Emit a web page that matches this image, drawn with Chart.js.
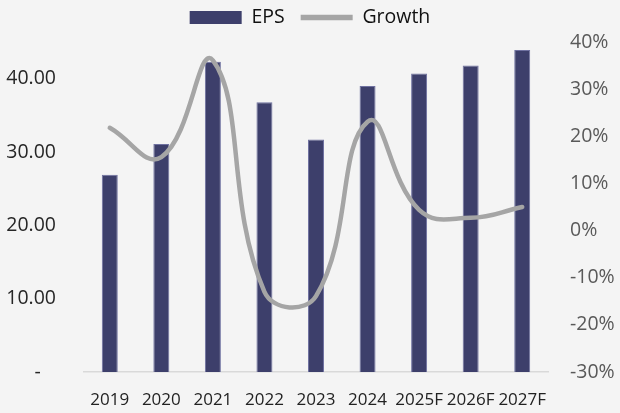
<!DOCTYPE html>
<html>
<head>
<meta charset="utf-8">
<script src="https://cdn.jsdelivr.net/npm/chart.js@4/dist/chart.umd.min.js"></script>
<style>
  html, body { margin: 0; padding: 0; background: #f4f4f4; }
  #wrap { width: 620px; height: 413px; }
</style>
</head>
<body>
<div id="wrap"><canvas id="c" width="620" height="413"></canvas></div>
<script>
const categories = ['2019', '2020', '2021', '2022', '2023', '2024', '2025F', '2026F', '2027F'];
const epsValues = [26.9, 31.1, 42.3, 36.8, 31.7, 39.0, 40.7, 41.8, 43.9];
const growthValues = [21.8, 15.6, 36.1, -13.0, -13.9, 23.1, 4.4, 2.7, 5.0];
const epsTicks = [0, 10, 20, 30, 40];
const growthTicks = [-30, -20, -10, 0, 10, 20, 30, 40];

const FONT = '"Open Sans", "Noto Sans", sans-serif';

const legendFit = {
  id: 'legendFit',
  beforeLayout(chart) {
    const lg = chart.legend;
    if (lg && !lg._patched) {
      const orig = lg.fit;
      lg.fit = function () { orig.call(this); this.height = 50.25; };
      lg._patched = true;
    }
  }
};

new Chart(document.getElementById('c'), {
  data: {
    labels: categories,
    datasets: [
      {
        type: 'bar',
        label: 'EPS',
        data: epsValues,
        backgroundColor: '#3d3f6b',
        borderColor: '#6f71a0',
        borderWidth: { left: 1, right: 1, top: 1, bottom: 0 },
        barPercentage: 0.31,
        categoryPercentage: 1,
        yAxisID: 'y',
        order: 1,
        pointStyle: 'rect'
      },
      {
        type: 'line',
        label: 'Growth',
        data: growthValues,
        borderColor: '#a5a5a5',
        backgroundColor: '#a5a5a5',
        borderWidth: 4.5,
        borderCapStyle: 'round',
        borderJoinStyle: 'round',
        pointRadius: 0,
        pointHoverRadius: 0,
        tension: 0.45,
        fill: false,
        yAxisID: 'y1',
        order: 0,
        pointStyle: 'line'
      }
    ]
  },
  options: {
    responsive: false,
    animation: false,
    devicePixelRatio: 1,
    layout: { padding: { top: -8.25, left: 0, right: 0, bottom: 0 } },
    plugins: {
      tooltip: { enabled: false },
      legend: {
        display: true,
        position: 'top',
        labels: {
          usePointStyle: true,
          pointStyleWidth: 52,
          boxWidth: 52,
          boxHeight: 13,
          padding: 16,
          color: '#111111',
          font: { family: FONT, size: 19.5 },
          sort: (a, b) => a.datasetIndex - b.datasetIndex,
          generateLabels(chart) {
            const items = Chart.defaults.plugins.legend.labels.generateLabels(chart);
            items.forEach(it => {
              if (it.datasetIndex === 0) { it.lineWidth = 0; it.fillStyle = '#3d3f6b'; }
              else { it.lineWidth = 5.5; }
            });
            return items;
          }
        }
      }
    },
    scales: {
      x: {
        grid: { display: false, drawTicks: false },
        border: { display: true, color: '#d9d9d9', width: 1.5 },
        ticks: {
          color: '#222222',
          font: { family: FONT, size: 17 },
          padding: 18,
          maxRotation: 0,
          autoSkip: false
        },
        afterFit(scale) { scale.height = 41; }
      },
      y: {
        position: 'left',
        min: 0,
        max: 45,
        grid: { display: false, drawTicks: false },
        border: { display: false },
        afterBuildTicks(scale) { scale.ticks = epsTicks.map(v => ({ value: v })); },
        ticks: {
          color: '#262626',
          font: { family: FONT, size: 19.5 },
          padding: 28,
          callback: (v) => v === 0 ? '-   ' : Number(v).toFixed(2)
        },
        afterFit(scale) { scale.width = 84; }
      },
      y1: {
        position: 'right',
        min: -30,
        max: 40,
        grid: { display: false, drawTicks: false },
        border: { display: false },
        afterBuildTicks(scale) { scale.ticks = growthTicks.map(v => ({ value: v })); },
        ticks: {
          color: '#595959',
          font: { family: FONT, size: 19.5 },
          padding: 22,
          callback: (v) => v + '%'
        },
        afterFit(scale) { scale.width = 72; }
      }
    }
  },
  plugins: [legendFit]
});
</script>
</body>
</html>
